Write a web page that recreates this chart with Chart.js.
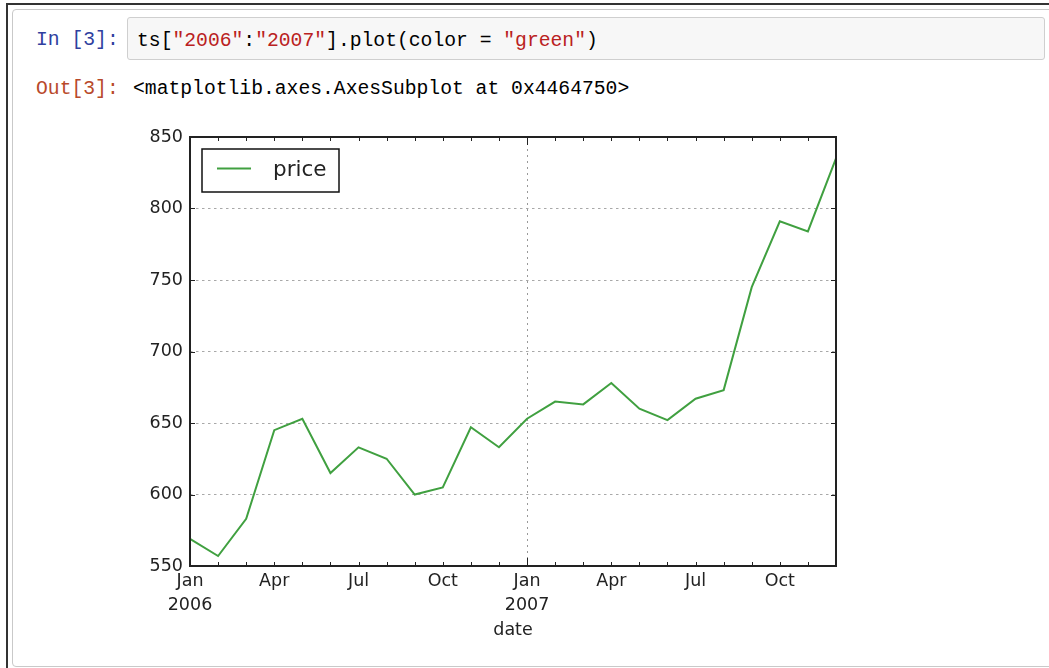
<!DOCTYPE html>
<html>
<head>
<meta charset="utf-8">
<title>ts plot</title>
<script src="https://cdn.jsdelivr.net/npm/chart.js@4.4.0/dist/chart.umd.min.js"></script>
<style>
    html, body { margin: 0; padding: 0; background: #fff; width: 1049px; height: 668px; overflow: hidden; }
    .frame { position: absolute; left: 6px; top: 3px; width: 2000px; height: 2000px;
             border-left: 2px solid #333; border-top: 2px solid #333; }
    .cell { position: absolute; left: 12px; top: 9px; width: 1100px; height: 656px;
            border: 1px solid #c9c9c9; border-radius: 4px; }
    .mono { position: absolute; font: 19.7px "Liberation Mono", "DejaVu Sans Mono", monospace; white-space: pre; }
    .prompt-in { left: 36px; top: 19px; line-height: 43px; color: #303F9F; }
    .prompt-out { left: 36px; top: 72px; line-height: 34px; color: #B8492A; }
    .input { position: absolute; left: 127px; top: 17px; width: 916px; height: 41px;
             background: #f7f7f7; border: 1px solid #cfcfcf; border-radius: 3px; }
    .code { left: 9px; top: 2px; line-height: 43px; color: #000; }
    .str { color: #BA2121; }
    .out-text { left: 133px; top: 72px; line-height: 34px; color: #000; }
    #wrap { position: absolute; left: 100px; top: 115px; width: 780px; height: 545px; }
</style>
</head>
<body>
<div class="frame"></div>
<div class="cell"></div>
<div class="mono prompt-in">In [3]:</div>
<div class="input"><div class="mono code">ts[<span class="str">"2006"</span>:<span class="str">"2007"</span>].plot(color = <span class="str">"green"</span>)</div></div>
<div class="mono prompt-out">Out[3]:</div>
<div class="mono out-text">&lt;matplotlib.axes.AxesSubplot at 0x4464750&gt;</div>
<div id="wrap"><canvas id="priceChart"></canvas></div>

<script>
    // data (monthly, Jan 2006 - Dec 2007)
    const months = ['2006-01','2006-02','2006-03','2006-04','2006-05','2006-06',
                    '2006-07','2006-08','2006-09','2006-10','2006-11','2006-12',
                    '2007-01','2007-02','2007-03','2007-04','2007-05','2007-06',
                    '2007-07','2007-08','2007-09','2007-10','2007-11','2007-12'];
    const prices = [569, 557, 583, 645, 653, 615, 633, 625, 600, 605, 647, 633,
                    653, 665, 663, 678, 660, 652, 667, 673, 745, 791, 784, 835];
    const tickLabels = [['Jan','2006'],'','','Apr','','','Jul','','','Oct','','',
                        ['Jan','2007'],'','','Apr','','','Jul','','','Oct','',''];
    const yTicks = [550, 600, 650, 700, 750, 800, 850];

    const FONT = '"DejaVu Sans", sans-serif';
    const LINE_COLOR = '#40a040';

    // matplotlib-style frame, inward ticks and legend box
    const framePlugin = {
        id: 'mplFrame',
        afterDatasetsDraw(chart) {
            const { ctx, chartArea: a, scales: { x, y } } = chart;
            ctx.save();
            ctx.strokeStyle = '#222';
            ctx.lineWidth = 1;
            ctx.beginPath();
            y.ticks.forEach(t => {
                const py = Math.round(y.getPixelForValue(t.value)) + 0.5;
                ctx.moveTo(a.left, py); ctx.lineTo(a.left + 5, py);
                ctx.moveTo(a.right - 5, py); ctx.lineTo(a.right, py);
            });
            x.ticks.forEach((t, i) => {
                const px = Math.round(x.getPixelForValue(t.value)) + 0.5;
                const len = Array.isArray(tickLabels[i]) ? 8 : 4;
                ctx.moveTo(px, a.bottom); ctx.lineTo(px, a.bottom - len);
                ctx.moveTo(px, a.top); ctx.lineTo(px, a.top + len);
            });
            ctx.stroke();
            ctx.lineWidth = 2;
            ctx.strokeRect(a.left, a.top, a.right - a.left, a.bottom - a.top);

            // legend
            const ds = chart.data.datasets[0];
            const bx = a.left + 12, by = a.top + 12, bw = 137, bh = 43;
            ctx.fillStyle = '#fff';
            ctx.fillRect(bx, by, bw, bh);
            ctx.lineWidth = 1.5;
            ctx.strokeStyle = '#111';
            ctx.strokeRect(bx, by, bw, bh);
            ctx.strokeStyle = ds.borderColor;
            ctx.lineWidth = 2;
            ctx.beginPath();
            ctx.moveTo(bx + 15, by + 19.5);
            ctx.lineTo(bx + 49, by + 19.5);
            ctx.stroke();
            ctx.fillStyle = '#222';
            ctx.font = '21.5px ' + FONT;
            ctx.textBaseline = 'middle';
            ctx.fillText(ds.label, bx + 71, by + 21);
            ctx.restore();
        }
    };

    function initChart() {
        const ctx = document.getElementById('priceChart').getContext('2d');
        new Chart(ctx, {
            type: 'line',
            data: {
                labels: months,
                datasets: [{
                    label: 'price',
                    data: prices,
                    borderColor: LINE_COLOR,
                    borderWidth: 2,
                    pointRadius: 0,
                    tension: 0,
                    fill: false
                }]
            },
            options: {
                responsive: true,
                maintainAspectRatio: false,
                animation: false,
                events: [],
                layout: { padding: { left: 0, top: 22, right: 44, bottom: 0 } },
                plugins: {
                    legend: { display: false },
                    tooltip: { enabled: false }
                },
                scales: {
                    x: {
                        type: 'category',
                        offset: false,
                        afterFit: s => { s.height = 94; },
                        border: { display: false, dash: [2, 4] },
                        grid: {
                            drawTicks: false,
                            lineWidth: 1,
                            color: c => (c.index === 12 ? '#999999' : 'rgba(0,0,0,0)')
                        },
                        ticks: {
                            autoSkip: false,
                            maxRotation: 0,
                            padding: 3,
                            color: '#222',
                            font: { family: FONT, size: 17.5, lineHeight: 1.37 },
                            callback: (v, i) => tickLabels[i]
                        },
                        title: {
                            display: true,
                            text: 'date',
                            color: '#222',
                            font: { family: FONT, size: 17.5 },
                            padding: { top: 0, bottom: 19.5 }
                        }
                    },
                    y: {
                        min: 550,
                        max: 850,
                        afterFit: s => { s.width = 90; },
                        afterBuildTicks: s => { s.ticks = yTicks.map(v => ({ value: v })); },
                        border: { display: false, dash: [2.5, 3.5] },
                        grid: {
                            drawTicks: false,
                            lineWidth: 1,
                            color: c => (c.tick && (c.tick.value === 550 || c.tick.value === 850) ? 'rgba(0,0,0,0)' : '#a8a8a8')
                        },
                        ticks: {
                            padding: 7,
                            color: '#222',
                            font: { family: FONT, size: 17.5 }
                        }
                    }
                }
            },
            plugins: [framePlugin]
        });
    }

    initChart();
</script>
</body>
</html>
